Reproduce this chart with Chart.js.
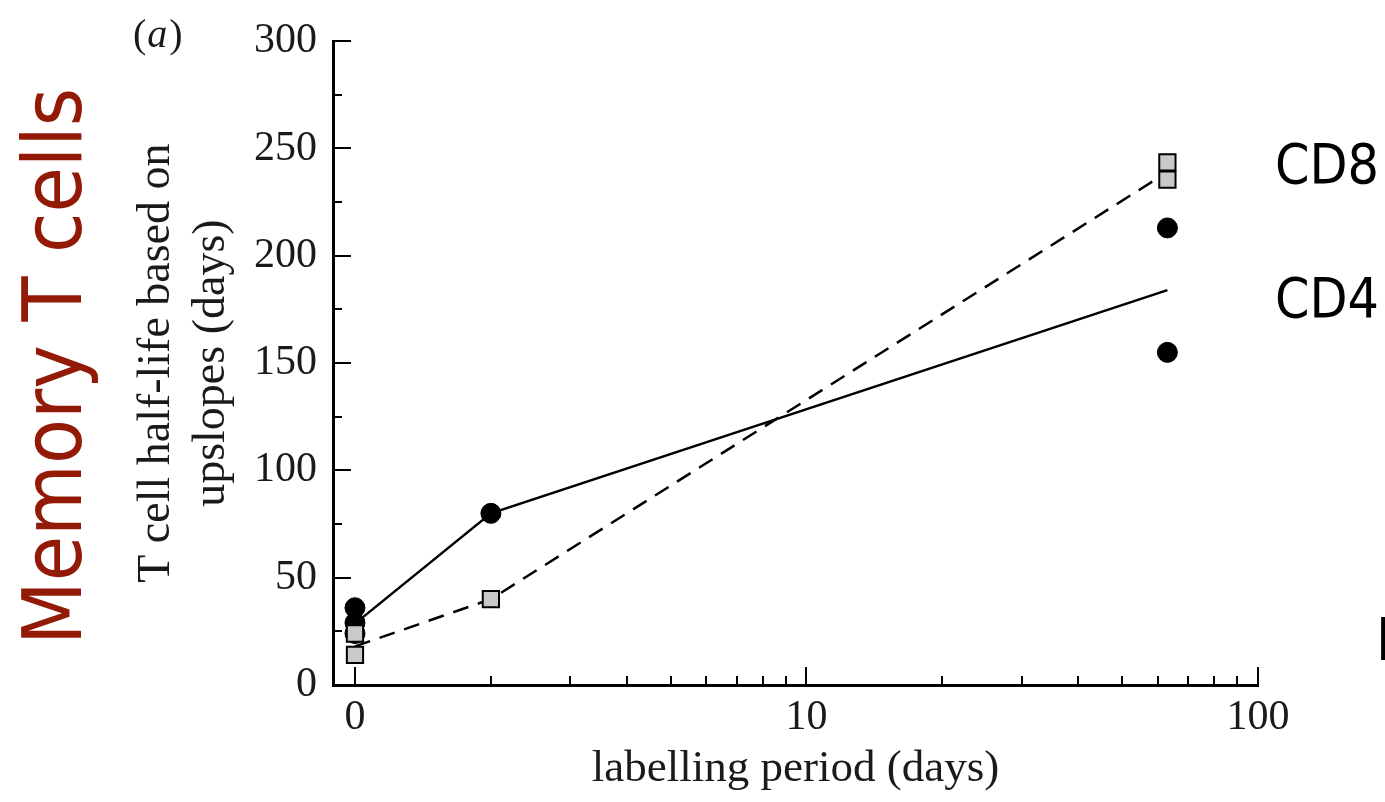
<!DOCTYPE html>
<html>
<head>
<meta charset="utf-8">
<script src="https://cdn.jsdelivr.net/npm/chart.js@4/dist/chart.umd.min.js"></script>
<style>
  body { margin: 0; background: #fff; }
  #wrap { width: 1385px; height: 802px; }
</style>
</head>
<body>
<div id="wrap"><canvas id="chart"></canvas></div>
<script>
// ---- data ----
const cd4Days = [1, 1, 1, 2, 63, 63];
const cd4HalfLife = [36, 29, 24, 80, 213, 155];
const cd8Days = [1, 1, 2, 63, 63];
const cd8HalfLife = [24, 14, 40, 243.5, 235.5];

// fitted curves
const fitDays = [1, 2, 63];
const cd4Fit = [28.6, 80, 184];
const cd8Fit = [18, 40, 239];

// axis ticks
const xTickValues = [1, 2, 3, 4, 5, 6, 7, 8, 9, 10, 20, 30, 40, 50, 60, 70, 80, 90, 100];
const xMajorValues = [1, 10, 100];
const xTickLabels = ["0", "10", "100"];
const yMajorStep = 50;

const serif = '"Liberation Serif", "Times New Roman", serif';
const comic = '"DejaVu Sans Condensed", "DejaVu Sans", sans-serif';

function toPoints(xs, ys) {
    return xs.map((x, i) => ({ x: x, y: ys[i] }));
}

// inward tick marks, long for majors, short for minors
const inwardTicks = {
    id: "inwardTicks",
    beforeDatasetsDraw(chart) {
        const ctx = chart.ctx;
        const xs = chart.scales.x;
        const ys = chart.scales.y;
        ctx.save();
        ctx.strokeStyle = "#000";
        ctx.lineWidth = 2;
        ctx.beginPath();
        xs.ticks.forEach(t => {
            const px = Math.round(xs.getPixelForValue(t.value));
            const len = xMajorValues.includes(t.value) ? 18 : 9;
            ctx.moveTo(px, xs.top);
            ctx.lineTo(px, xs.top - len);
        });
        ys.ticks.forEach(t => {
            const py = Math.round(ys.getPixelForValue(t.value));
            const len = t.value % yMajorStep === 0 ? 18 : 9;
            ctx.moveTo(ys.right, py);
            ctx.lineTo(ys.right + len, py);
        });
        ctx.stroke();
        ctx.restore();
    }
};

// panel letter, side label and the CD labels
const annotations = {
    id: "annotations",
    afterDraw(chart) {
        const ctx = chart.ctx;
        ctx.save();

        // (a)
        ctx.fillStyle = "#1a1a1a";
        ctx.textBaseline = "alphabetic";
        ctx.textAlign = "left";
        let x = 133;
        ctx.font = "40px " + serif;
        ctx.fillText("(", x, 47);
        x += ctx.measureText("(").width + 1;
        ctx.font = "italic 40px " + serif;
        ctx.fillText("a", x, 47);
        x += ctx.measureText("a").width + 2;
        ctx.font = "40px " + serif;
        ctx.fillText(")", x, 47);

        // Memory T cells
        ctx.save();
        ctx.translate(81, 645);
        ctx.rotate(-Math.PI / 2);
        ctx.font = "82px " + comic;
        ctx.fillStyle = "#931a06";
        ctx.fillText("Memory T cells", 0, 0, 565);
        ctx.restore();

        // CD8 / CD4
        ctx.font = "55px " + comic;
        ctx.fillStyle = "#000";
        ctx.fillText("CD8", 1275, 183, 104);
        ctx.fillText("CD4", 1275, 317, 104);
        ctx.font = "58px " + comic;
        ctx.fillText("B", 1376, 660);

        ctx.restore();
    }
};

new Chart(document.getElementById("chart"), {
    type: "scatter",
    data: {
        datasets: [
            {
                label: "CD8",
                data: toPoints(cd8Days, cd8HalfLife),
                pointStyle: "rect",
                pointRadius: 11.5,
                backgroundColor: "#c9c9c9",
                borderColor: "#000",
                borderWidth: 2,
                showLine: false
            },
            {
                label: "CD4",
                data: toPoints(cd4Days, cd4HalfLife),
                pointStyle: "circle",
                pointRadius: 10,
                backgroundColor: "#000",
                borderColor: "#000",
                borderWidth: 1,
                showLine: false
            },
            {
                label: "CD4 fit",
                data: toPoints(fitDays, cd4Fit),
                showLine: true,
                pointRadius: 0,
                borderColor: "#000",
                borderWidth: 2.5,
                fill: false
            },
            {
                label: "CD8 fit",
                data: toPoints(fitDays, cd8Fit),
                showLine: true,
                pointRadius: 0,
                borderColor: "#000",
                borderWidth: 2.5,
                borderDash: [16, 10],
                fill: false
            }
        ]
    },
    options: {
        responsive: true,
        maintainAspectRatio: false,
        animation: false,
        layout: { padding: { left: 0, top: 40, right: 127, bottom: 0 } },
        plugins: {
            legend: { display: false },
            tooltip: { enabled: false }
        },
        scales: {
            x: {
                type: "logarithmic",
                min: 0.894,
                max: 100,
                afterFit: s => { s.height = 117; },
                afterBuildTicks: s => {
                    s.ticks = xTickValues.map(v => ({ value: v, major: xMajorValues.includes(v) }));
                },
                grid: { display: true, drawOnChartArea: false, drawTicks: false, color: "transparent" },
                border: { display: true, color: "#000", width: 3 },
                ticks: {
                    autoSkip: false,
                    maxRotation: 0,
                    padding: 8,
                    color: "#1a1a1a",
                    font: { family: serif, size: 42 },
                    callback: v => {
                        const i = xMajorValues.indexOf(v);
                        return i >= 0 ? xTickLabels[i] : "";
                    }
                },
                title: {
                    display: true,
                    text: "labelling period (days)",
                    color: "#1a1a1a",
                    font: { family: serif, size: 45 },
                    padding: { top: 0, bottom: 6 }
                }
            },
            y: {
                min: 0,
                max: 300,
                afterFit: s => { s.width = 333; },
                grid: { display: true, drawOnChartArea: false, drawTicks: false, color: "transparent" },
                border: { display: true, color: "#000", width: 3 },
                ticks: {
                    stepSize: 25,
                    autoSkip: false,
                    padding: 16,
                    color: "#1a1a1a",
                    font: { family: serif, size: 42 },
                    callback: v => (v % yMajorStep === 0 ? v : "")
                },
                title: {
                    display: true,
                    text: ["T cell half-life based on", "upslopes (days)"],
                    color: "#1a1a1a",
                    font: { family: serif, size: 46, lineHeight: 1.2 },
                    padding: { top: 129, bottom: 0 }
                }
            }
        }
    },
    plugins: [inwardTicks, annotations]
});
</script>
</body>
</html>
